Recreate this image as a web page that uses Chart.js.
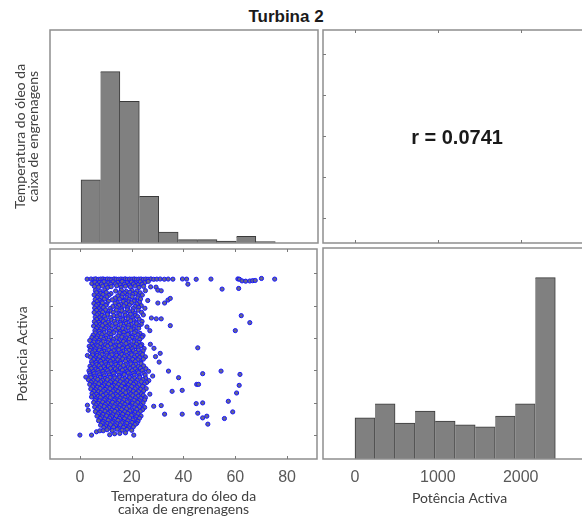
<!DOCTYPE html>
<html><head><meta charset="utf-8">
<script src="https://cdn.jsdelivr.net/npm/chart.js@4.4.1/dist/chart.umd.min.js"></script>
<style>
html,body{margin:0;padding:0;background:#fff;overflow:hidden;width:582px;height:520px;}
canvas{position:absolute;}
#titulo{position:absolute;left:0;width:572px;top:7px;line-height:20px;text-align:center;font:bold 17px "Liberation Sans",Arial,sans-serif;color:#1a1a1a;}
</style></head><body>
<div id="titulo">Turbina 2</div>
<canvas id="c1" width="322" height="220" style="left:0;top:26px"></canvas>
<canvas id="c2" width="281" height="220" style="left:319px;top:26px"></canvas>
<canvas id="c3" width="322" height="276" style="left:0;top:244px"></canvas>
<canvas id="c4" width="281" height="276" style="left:319px;top:244px"></canvas>
<script>
// ---- tick labels ----
const tempTicks = [0, 20, 40, 60, 80];
const potTicks = [0, 500, 1000, 1500, 2000, 2500];
const potLabelTicks = [0, 1000, 2000];
// ---- axis limits ----
const tempLim = [-11.54, 91.54];
const tempLimY = [-12.37, 91.74];
const potLimY = [-369, 2873];
const potLimX = [-386, 2909];
// ---- histogram of temperature ----
const tempBinEdges = [0.4, 7.87, 15.34, 22.81, 30.28, 37.75, 45.22, 52.69, 60.16, 67.63, 75.1];
const tempFreq = [190, 515, 426, 140, 33, 10, 10, 6, 20, 4];
const tempFreqMax = 640;
// ---- histogram of power ----
const potBinEdges = [0, 242, 484, 725, 967, 1209, 1451, 1693, 1934, 2176, 2418];
const potFreq = [124, 166, 108, 144, 114, 103, 97, 129, 166, 546];
const potFreqMax = 635;
// ---- correlation ----
const rValor = '0.0741';
// ---- scatter samples [temperatura, potência] ----
const amostras = [
[2.8,2408],[4.3,2410],[5.4,2406],[6.1,2412],[7.2,2404],[8.0,2409],[8.9,2411],[9.7,2405],[10.6,2410],[11.5,2407],[12.3,2403],[13.2,2411],[14.0,2408],[14.9,2405],[15.8,2410],[16.6,2406],[17.5,2412],[18.3,2404],[19.2,2409],[20.1,2407],[21.0,2411],[21.8,2405],[22.7,2408],[23.6,2410],[24.5,2404],[25.4,2409],[26.3,2406],[27.4,2411],[28.5,2405],[29.7,2408],[31.0,2410],[32.6,2406],[34.1,2409],[35.9,2407],[39.6,2410],[41.2,2408],[44.9,2405],[50.6,2409],[61.0,2411],[61.6,2406],[70.1,2418],[75.2,2408],[62.6,2381],[64.0,2376],[65.6,2379],[66.7,2384],[67.7,2387],[41.7,2330],
[4.6,2340],[5.8,2362],[7.5,2355],[9.3,2368],[11.0,2350],[12.8,2365],[14.6,2357],[16.3,2370],[18.1,2352],[19.9,2363],[21.5,2348],[23.3,2366],[25.0,2354],[26.4,2372],
[6.6,2322],[8.3,2331],[10.1,2318],[11.9,2327],[13.7,2335],[15.5,2320],[17.2,2329],[19.0,2316],[20.7,2333],[22.4,2321],[24.0,2330],
[5.6,2295],[7.2,2283],[8.8,2300],[10.7,2278],[12.1,2292],[14.2,2305],[15.9,2281],[17.6,2298],[19.5,2287],[21.3,2302],[22.8,2279],[24.6,2296],[27.3,2288],[29.4,2284],
[6.0,2232],[7.8,2221],[9.6,2240],[13.8,2225],[16.0,2238],[17.9,2219],[20.1,2235],[22.0,2224],[25.3,2230],[30.1,2238],[31.4,2228],[54.9,2254],[61.3,2264],
[6.4,2198],[8.1,2190],[10.2,2203],[12.0,2185],[15.4,2200],[17.2,2193],[19.3,2206],[21.4,2188],[23.3,2197],
[5.5,2165],[7.1,2152],[8.9,2170],[11.2,2158],[14.6,2149],[16.4,2168],[18.3,2155],[20.4,2171],[22.5,2150],[24.1,2162],
[6.7,2128],[8.3,2120],[10.4,2133],[13.6,2115],[16.2,2130],[18.1,2122],[20.2,2136],[22.3,2118],
[5.9,2094],[7.6,2082],[9.4,2099],[12.5,2088],[15.2,2101],[17.1,2080],[19.0,2096],[21.2,2085],[23.4,2100],[26.2,2078],[34.0,2085],[34.9,2110],
[6.6,2062],[8.4,2055],[11.0,2068],[14.4,2050],[16.7,2065],[18.8,2057],[20.9,2070],[23.0,2052],
[5.4,2033],[7.0,2021],[8.7,2040],[10.4,2026],[13.6,2037],[15.8,2019],[17.8,2031],[19.9,2042],[22.0,2024],[30.1,2039],[32.7,2039],
[6.3,1998],[8.2,1990],[10.0,2004],[12.7,1986],[15.0,2001],[17.0,1993],[19.1,2006],[21.3,1988],[23.7,1999],
[5.7,1962],[7.4,1951],[9.1,1970],[11.6,1955],[14.3,1968],[16.1,1948],[18.4,1965],[20.6,1953],[22.7,1971],[25.1,1958],
[6.4,1927],[8.1,1918],[9.9,1932],[12.0,1915],[14.1,1930],[16.2,1921],[18.3,1935],[20.3,1917],[22.5,1928],
[5.5,1893],[7.2,1880],[8.8,1899],[10.7,1884],[12.9,1896],[15.0,1878],[17.3,1890],[19.2,1902],[21.3,1881],[23.8,1895],
[6.6,1857],[8.5,1849],[10.6,1862],[13.1,1845],[15.5,1860],[17.6,1852],[19.5,1866],[21.4,1847],[24.5,1855],
[5.9,1822],[7.6,1811],[9.5,1830],[11.8,1815],[14.4,1827],[16.5,1808],[18.6,1825],[20.4,1812],[22.3,1829],[27.6,1808],[29.5,1795],[31.4,1795],[62.3,1844],
[6.5,1787],[8.2,1779],[10.0,1792],[12.3,1775],[14.6,1790],[16.6,1782],[18.6,1795],[20.7,1777],[22.9,1789],
[5.6,1753],[7.3,1741],[9.0,1760],[10.9,1745],[13.3,1757],[15.6,1739],[17.5,1752],[19.6,1764],[21.7,1742],[24.0,1755],[65.6,1736],[34.9,1690],
[6.2,1717],[7.9,1709],[9.8,1722],[11.6,1705],[13.8,1720],[15.8,1712],[17.9,1725],[19.9,1707],[21.9,1719],[23.7,1711],
[5.3,1684],[7.0,1672],[8.7,1690],[10.5,1676],[12.4,1688],[14.2,1669],[16.9,1681],[18.8,1693],[20.9,1673],[22.8,1686],[25.9,1670],
[6.4,1647],[8.1,1639],[10.0,1652],[12.1,1635],[14.9,1650],[16.6,1642],[18.7,1655],[20.6,1637],[22.7,1649],
[5.8,1613],[7.5,1601],[9.3,1620],[11.4,1605],[13.7,1617],[15.5,1598],[17.6,1611],[19.7,1623],[21.6,1603],[27.0,1612],[60.0,1613],
[5.9,1577],[7.7,1569],[9.4,1582],[11.2,1565],[13.1,1580],[15.2,1572],[17.0,1585],[19.0,1567],[21.0,1579],[23.2,1571],
[5.1,1543],[6.8,1531],[8.5,1550],[10.2,1535],[12.0,1547],[14.8,1529],[16.7,1541],[18.5,1553],[20.4,1533],[22.4,1546],[24.4,1537],
[4.6,1507],[6.4,1499],[8.2,1512],[10.0,1495],[12.0,1510],[14.0,1502],[16.2,1515],[18.1,1497],[20.1,1509],[22.1,1501],[24.0,1513],
[3.8,1460],[5.6,1472],[7.4,1461],[9.2,1479],[11.1,1465],[13.0,1477],[15.3,1458],[17.2,1470],[19.1,1482],[21.0,1463],[23.1,1475],
[5.4,1437],[7.2,1429],[9.0,1442],[10.9,1425],[12.8,1440],[14.7,1432],[16.8,1445],[18.8,1427],[20.8,1439],[22.8,1431],
[4.6,1403],[6.3,1391],[8.1,1410],[9.9,1395],[11.8,1407],[13.9,1389],[15.9,1401],[17.8,1413],[19.8,1393],[21.8,1405],[23.9,1397],[27.2,1402],
[3.6,1372],[5.1,1364],[6.9,1377],[8.7,1360],[10.7,1375],[13.3,1367],[15.2,1380],[17.1,1362],[19.1,1374],[21.2,1366],[23.4,1378],
[2.9,1229],[4.2,1343],[5.9,1331],[7.7,1350],[9.5,1336],[12.4,1347],[14.6,1329],[16.5,1341],[18.4,1353],[20.3,1333],[22.5,1346],[24.8,1337],[28.6,1340],[45.5,1347],
[3.9,1307],[5.7,1299],[7.5,1312],[9.3,1295],[11.2,1310],[13.0,1302],[15.0,1315],[16.9,1297],[18.9,1309],[20.7,1301],[22.6,1313],[24.4,1300],
[4.8,1272],[6.6,1261],[8.4,1279],[10.3,1265],[12.1,1277],[14.0,1258],[15.8,1270],[17.9,1283],[19.7,1263],[21.6,1275],[23.5,1266],[31.0,1262],
[4.9,1237],[6.7,1229],[8.5,1242],[10.4,1225],[12.3,1240],[14.2,1232],[16.2,1245],[18.1,1227],[20.0,1239],[22.1,1231],[24.2,1243],
[4.1,1203],[5.8,1191],[7.6,1210],[9.4,1195],[11.3,1207],[13.3,1189],[15.2,1201],[17.1,1213],[19.0,1193],[21.0,1205],[23.0,1197],[25.3,1208],[29.2,1212],
[5.3,1167],[7.1,1159],[8.9,1172],[10.8,1155],[12.7,1170],[14.6,1162],[16.5,1175],[18.5,1157],[20.4,1169],[22.4,1161],[24.5,1173],
[4.5,1133],[6.3,1121],[8.0,1140],[9.9,1125],[11.8,1137],[13.7,1119],[15.6,1131],[17.6,1143],[19.5,1123],[21.4,1135],[23.5,1127],[30.6,1127],
[4.7,1097],[6.5,1089],[8.3,1102],[10.1,1085],[12.0,1100],[13.9,1092],[15.8,1105],[17.7,1087],[19.7,1099],[21.6,1091],[23.6,1103],
[3.9,1063],[5.6,1051],[7.4,1070],[9.2,1055],[11.0,1067],[12.9,1049],[14.8,1061],[16.8,1073],[18.7,1053],[20.6,1065],[22.6,1057],[24.6,1068],
[4.4,1027],[6.2,1019],[8.0,1032],[9.9,1015],[11.8,1030],[13.7,1022],[15.6,1035],[17.5,1017],[19.4,1029],[21.4,1021],[23.4,1033],[25.5,1025],
[3.5,993],[5.2,981],[7.0,1000],[8.9,985],[10.7,997],[12.6,979],[14.5,991],[16.4,1003],[18.3,983],[20.2,995],[22.2,987],[24.1,998],[26.5,985],[34.2,988],[54.5,988],
[3.8,957],[5.5,949],[7.3,962],[9.2,945],[11.1,960],[13.0,952],[14.9,965],[16.8,947],[18.7,959],[20.6,951],[22.6,963],[24.7,955],
[2.3,896],[4.0,923],[5.8,911],[7.6,930],[9.5,915],[11.4,927],[13.3,909],[15.2,921],[17.1,933],[19.0,913],[21.0,925],[23.0,917],[25.2,928],[28.1,912],[47.4,948],[61.8,937],
[4.2,887],[6.0,879],[7.8,892],[9.7,875],[11.6,890],[13.5,882],[15.4,895],[17.3,877],[19.2,889],[21.1,881],[23.1,893],[25.4,880],
[3.3,853],[5.1,841],[6.9,860],[8.7,845],[10.6,857],[12.5,839],[14.4,851],[16.3,863],[18.2,843],[20.1,855],[22.1,847],[24.3,858],[26.6,842],[38.1,886],
[4.3,817],[6.1,809],[8.0,822],[9.9,805],[11.8,820],[13.7,812],[15.6,825],[17.5,807],[19.5,819],[21.5,811],[23.7,823],[25.8,812],
[3.8,783],[5.5,771],[7.3,790],[9.2,775],[11.1,787],[13.0,769],[14.9,781],[16.8,793],[18.7,773],[20.7,785],[22.8,777],[24.9,788],[45.1,783],[45.8,783],[61.5,768],
[4.9,747],[6.7,739],[8.5,752],[10.4,735],[12.3,750],[14.2,742],[16.1,755],[18.0,737],[20.0,749],[22.0,741],[24.2,753],
[4.2,713],[6.0,701],[7.8,720],[9.7,705],[11.6,717],[13.5,699],[15.4,711],[17.4,723],[19.3,703],[21.3,715],[23.4,707],[25.6,718],[35.6,676],[39.5,691],
[5.4,677],[7.2,669],[9.0,682],[10.9,665],[12.8,680],[14.7,672],[16.7,685],[18.6,667],[20.6,679],[22.6,671],[24.6,683],
[4.7,643],[6.4,631],[8.2,650],[10.1,635],[12.0,647],[13.9,629],[15.8,641],[17.7,653],[19.7,633],[21.7,645],[23.8,637],[27.0,632],[60.5,650],
[5.3,607],[7.1,599],[8.9,612],[10.8,595],[12.7,610],[14.6,602],[16.5,615],[18.4,597],[20.4,609],[22.5,601],[24.5,613],
[4.5,589],[6.1,561],[7.9,580],[9.8,565],[11.7,577],[13.6,559],[15.5,571],[17.4,583],[19.4,563],[21.4,575],[23.5,567],[25.3,578],[57.3,522],
[5.8,537],[7.6,529],[9.4,542],[11.3,525],[13.2,540],[15.1,532],[17.0,545],[18.9,527],[20.9,539],[22.9,531],[25.0,543],
[2.9,461],[5.3,503],[7.0,491],[8.8,510],[10.7,495],[12.6,507],[14.5,489],[16.4,501],[18.3,513],[20.3,493],[22.3,505],[24.4,497],[28.5,445],[31.4,456],[44.9,486],[47.4,497],
[6.2,467],[8.0,459],[9.8,472],[11.7,455],[13.6,470],[15.5,462],[17.4,475],[19.4,457],[21.4,469],[23.5,461],
[3.2,384],[5.7,433],[7.5,421],[9.4,440],[11.3,425],[13.2,437],[15.1,419],[17.0,431],[19.0,443],[21.0,423],[23.0,435],[25.0,427],
[6.7,397],[8.5,389],[10.4,402],[12.3,385],[14.2,400],[16.1,392],[18.0,405],[20.0,387],[22.0,399],[24.2,391],
[6.0,363],[7.8,351],[9.7,370],[11.6,355],[13.5,367],[15.4,349],[17.3,361],[19.3,373],[21.3,353],[23.3,365],[32.7,323],[39.5,323],[45.5,338],[59.0,358],
[7.1,327],[8.9,319],[10.8,332],[12.7,315],[14.6,330],[16.5,322],[18.5,335],[20.5,317],[22.5,329],
[6.6,293],[8.4,281],[10.3,300],[12.2,285],[14.1,297],[16.0,279],[17.9,291],[19.9,303],[21.9,283],[23.6,295],[47.4,266],[49.0,292],[55.8,256],
[7.8,257],[9.6,249],[11.5,262],[13.4,245],[15.3,260],[17.2,252],[19.2,265],[21.2,247],[23.0,259],
[7.2,223],[9.0,211],[10.9,230],[12.8,215],[14.7,227],[16.6,209],[18.5,221],[20.5,233],[22.4,213],
[8.6,187],[10.5,179],[12.4,192],[14.3,175],[16.2,190],[18.1,182],[20.1,195],[21.9,180],
[8.0,153],[9.9,141],[11.8,160],[13.7,145],[15.6,157],[17.5,139],[19.4,151],[21.3,163],[49.4,169],
[9.2,117],[11.1,109],[13.0,122],[14.9,105],[16.8,120],[18.7,112],[20.6,125],
[6.4,51],[7.7,67],[9.0,67],[10.5,83],[12.5,71],[14.4,90],[16.3,76],[18.2,88],[20.0,74],
[0.0,0],[4.5,0],[11.5,5],[13.4,20],[15.4,26],[17.6,35],[20.8,0]
];
// ---- labels ----
const tituloTemp = ['Temperatura do óleo da', 'caixa de engrenagens'];
const tituloPot = 'Potência Activa';

// ---- helpers ----
const centros = e => e.slice(0, -1).map((v, i) => (v + e[i + 1]) / 2);
const setTicks = arr => s => { s.ticks = arr.map(v => ({value: v})); };
const plain = v => String(v);
const labelFont = {family: 'Lato, "Liberation Sans", sans-serif', size: 14, lineHeight: 13 / 14};
const tickFont = {family: '"Liberation Sans", Arial, sans-serif', size: 16};
const base = {
  responsive: false, animation: false, devicePixelRatio: 1,
  plugins: {legend: {display: false}, tooltip: {enabled: false}}
};
function moldura(xT, yT) {
  return {
    id: 'moldura',
    afterDraw(chart) {
      const {ctx, chartArea: a, scales} = chart;
      ctx.save();
      ctx.strokeStyle = '#8e8e8e';
      ctx.lineWidth = 1.5;
      ctx.strokeRect(a.left, a.top, a.right - a.left, a.bottom - a.top);
      ctx.lineWidth = 1;
      ctx.strokeStyle = '#7a7a7a';
      ctx.beginPath();
      (xT || []).forEach(v => {
        const p = Math.round(scales.x.getPixelForValue(v)) + 0.5;
        ctx.moveTo(p, a.top); ctx.lineTo(p, a.top + 3);
        ctx.moveTo(p, a.bottom); ctx.lineTo(p, a.bottom - 3);
      });
      (yT || []).forEach(v => {
        const p = Math.round(scales.y.getPixelForValue(v)) + 0.5;
        ctx.moveTo(a.left, p); ctx.lineTo(a.left + 3, p);
        ctx.moveTo(a.right, p); ctx.lineTo(a.right - 3, p);
      });
      ctx.stroke();
      ctx.restore();
    }
  };
}
function histDataset(edges, freq) {
  return {
    data: centros(edges).map((x, i) => ({x, y: freq[i]})),
    backgroundColor: '#808080',
    borderColor: '#3a3a3a',
    borderWidth: c => ({top: 1, right: 1, bottom: 0, left: c.dataIndex === 0 ? 1 : 0}),
    borderSkipped: false,
    barPercentage: 1, categoryPercentage: 1
  };
}

// ---- top-left: histogram of temperature ----
new Chart(document.getElementById('c1'), {
  type: 'bar',
  data: {datasets: [histDataset(tempBinEdges, tempFreq)]},
  options: {
    ...base,
    layout: {padding: {top: 4, right: 4, bottom: 3, left: 0}},
    scales: {
      x: {type: 'linear', offset: false, min: tempLim[0], max: tempLim[1], display: false, afterBuildTicks: setTicks(tempTicks)},
      y: {min: 0, max: tempFreqMax, ticks: {display: false}, grid: {display: false, drawTicks: false}, border: {display: false},
          title: {display: true, text: tituloTemp, font: labelFont, color: '#404040', padding: {top: 13.5, bottom: 0}},
          afterFit: s => { s.width = 50; }}
    }
  },
  plugins: [moldura()]
});

// ---- top-right: correlation ----
new Chart(document.getElementById('c2'), {
  type: 'scatter',
  data: {datasets: [{data: []}]},
  options: {
    ...base,
    layout: {padding: {top: 4, right: 4, bottom: 3, left: 4}},
    scales: {
      x: {type: 'linear', offset: false, min: potLimX[0], max: potLimX[1], display: false},
      y: {type: 'linear', min: tempLimY[0], max: tempLimY[1], display: false}
    }
  },
  plugins: [moldura(potLabelTicks, tempTicks), {
    id: 'rtexto',
    afterDraw(chart) {
      const {ctx, chartArea: a} = chart;
      ctx.save();
      ctx.font = 'bold 20px "Liberation Sans", Arial, sans-serif';
      ctx.fillStyle = '#1a1a1a';
      ctx.textAlign = 'center';
      ctx.textBaseline = 'middle';
      ctx.fillText('r = ' + rValor, (a.left + a.right) / 2 - 2.5, (a.top + a.bottom) / 2 + 1.5);
      ctx.restore();
    }
  }]
});

// ---- bottom-left: scatter ----
new Chart(document.getElementById('c3'), {
  type: 'scatter',
  data: {datasets: [{
    data: amostras.map(([x, y]) => ({x, y})),
    pointRadius: 2.1, pointBackgroundColor: '#66668c', pointBorderColor: '#1414ff', pointBorderWidth: 1
  }]},
  options: {
    ...base,
    layout: {padding: {top: 4, right: 4, bottom: 0, left: 0}},
    scales: {
      x: {type: 'linear', offset: false, min: tempLim[0], max: tempLim[1], afterBuildTicks: setTicks(tempTicks),
          grid: {display: false, drawTicks: false}, border: {display: false},
          ticks: {font: tickFont, color: '#595959', padding: 9, autoSkip: false, maxRotation: 0, callback: plain},
          title: {display: true, text: tituloTemp, font: labelFont, color: '#404040', padding: {top: 0, bottom: 4.5}},
          afterFit: s => { s.height = 61; }},
      y: {type: 'linear', min: potLimY[0], max: potLimY[1], afterBuildTicks: setTicks(potTicks),
          ticks: {display: false}, grid: {display: false, drawTicks: false}, border: {display: false},
          title: {display: true, text: tituloPot, font: labelFont, color: '#404040', padding: {top: 15.5, bottom: 0}},
          afterFit: s => { s.width = 50; }}
    }
  },
  plugins: [moldura(tempTicks, potTicks)]
});

// ---- bottom-right: histogram of power ----
new Chart(document.getElementById('c4'), {
  type: 'bar',
  data: {datasets: [histDataset(potBinEdges, potFreq)]},
  options: {
    ...base,
    layout: {padding: {top: 4, right: 4, bottom: 0, left: 4}},
    scales: {
      x: {type: 'linear', offset: false, min: potLimX[0], max: potLimX[1], afterBuildTicks: setTicks(potLabelTicks),
          grid: {display: false, drawTicks: false}, border: {display: false},
          ticks: {font: tickFont, color: '#595959', padding: 9, autoSkip: false, maxRotation: 0, callback: plain},
          title: {display: true, text: tituloPot, font: labelFont, color: '#404040', padding: {top: 0, bottom: 15.5}},
          afterFit: s => { s.height = 61; }},
      y: {min: 0, max: potFreqMax, display: false}
    }
  },
  plugins: [moldura()]
});
</script>
</body></html>
